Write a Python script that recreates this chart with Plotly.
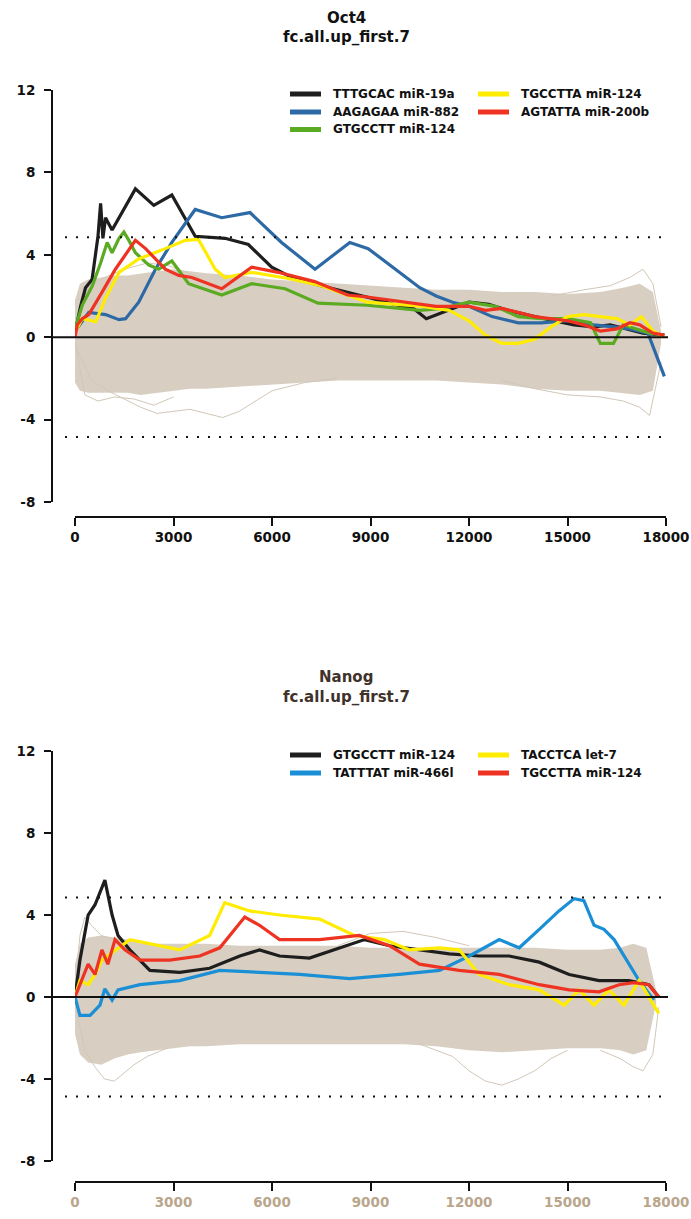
import plotly.graph_objects as go

W, H = 691, 1219

# ---------------- Oct4 panel data ----------------
oct4_labels = ["TTTGCAC miR-19a", "AAGAGAA miR-882", "GTGCCTT miR-124",
               "TGCCTTA miR-124", "AGTATTA miR-200b"]
oct4_colors = ["#1e1e1e", "#2d6aa5", "#5aaa22", "#ffec00", "#ee3322"]

oct4_black_x = [0, 170, 320, 520, 700, 780, 850, 930, 1030, 1130, 1840, 2400, 2950, 3660,
                4570, 5280, 5990, 6600, 7500, 8300, 9000, 9700, 10300, 10700, 11200, 12000,
                12600, 13200, 14000, 14600, 15200, 15800, 16300, 16800, 17300, 17950]
oct4_black_y = [0.2, 1.5, 2.4, 2.8, 4.9, 6.5, 4.8, 5.8, 5.5, 5.2, 7.2, 6.4, 6.9, 4.9,
                4.8, 4.5, 3.4, 2.9, 2.5, 2.2, 1.9, 1.6, 1.4, 0.9, 1.2, 1.7,
                1.6, 1.3, 1.0, 0.8, 0.6, 0.5, 0.6, 0.4, 0.2, 0.1]

oct4_blue_x = [0, 420, 930, 1340, 1540, 1940, 2450, 2950, 3660, 4470, 5330, 6290, 7310,
               8370, 8930, 9500, 10000, 10500, 11000, 11500, 12000, 12700, 13500, 14200,
               15000, 15800, 16400, 16900, 17450, 17950]
oct4_blue_y = [0.3, 1.2, 1.1, 0.85, 0.9, 1.7, 3.3, 4.6, 6.2, 5.8, 6.05, 4.6, 3.3,
               4.6, 4.3, 3.6, 3.0, 2.4, 2.0, 1.7, 1.5, 1.0, 0.7, 0.7,
               0.8, 0.6, 0.5, 0.4, 0.2, -1.9]

oct4_green_x = [0, 220, 530, 780, 980, 1130, 1340, 1490, 1640, 1840, 2250, 2550, 2950,
                3460, 4470, 5380, 6400, 7400, 8900, 9800, 10500, 11200, 12000, 12800,
                13500, 14200, 15000, 15700, 16000, 16400, 16700, 17100, 17500, 17950]
oct4_green_y = [0.4, 1.55, 2.5, 3.6, 4.6, 4.1, 4.8, 5.1, 4.7, 4.1, 3.5, 3.3, 3.7,
                2.6, 2.05, 2.6, 2.35, 1.65, 1.55, 1.4, 1.3, 1.4, 1.7, 1.5,
                1.0, 0.9, 0.9, 0.7, -0.3, -0.3, 0.6, 0.4, 0.2, 0.1]

oct4_yellow_x = [0, 220, 630, 930, 1340, 1940, 2750, 3360, 3760, 4270, 4570, 5380, 6500,
                 7500, 8900, 9800, 10600, 11400, 12000, 12500, 13000, 13500, 14000, 14500,
                 15000, 15500, 16000, 16500, 16900, 17250, 17600, 17950]
oct4_yellow_y = [0.25, 0.9, 0.75, 1.9, 3.15, 3.8, 4.3, 4.7, 4.75, 3.3, 2.9, 3.15, 2.85,
                 2.5, 1.7, 1.6, 1.5, 1.3, 0.8, 0.1, -0.3, -0.3, -0.1, 0.5,
                 1.0, 1.1, 1.0, 0.9, 0.6, 1.0, 0.3, 0.0]

oct4_red_x = [0, 70, 220, 420, 830, 1230, 1840, 2150, 2750, 3160, 3560, 4470, 5380, 6190,
              7300, 8300, 8900, 10000, 11000, 12000, 12500, 13000, 14000, 15000, 15500,
              16000, 16500, 16900, 17200, 17600, 17950]
oct4_red_y = [0.0, 0.6, 0.9, 1.1, 2.2, 3.3, 4.7, 4.3, 3.3, 3.0, 2.9, 2.35, 3.4, 3.15,
              2.7, 2.05, 1.95, 1.7, 1.5, 1.5, 1.3, 1.4, 1.0, 0.8, 0.6,
              0.3, 0.4, 0.7, 0.6, 0.2, 0.1]

# background envelope of the control motifs
oct4_band_x = [0, 150, 400, 800, 1200, 1600, 2000, 2500, 3000, 3500, 4000, 5000, 6000, 7000,
               8000, 9000, 10000, 11000, 12000, 13000, 14000, 15000, 16000, 16700, 17200,
               17600, 17850]
oct4_band_hi = [1.8, 2.6, 2.8, 2.9, 3.0, 3.0, 3.1, 3.2, 3.3, 3.2, 3.1, 3.0, 2.8, 2.7,
                2.6, 2.5, 2.4, 2.3, 2.3, 2.2, 2.2, 2.1, 2.2, 2.4, 2.6, 2.2, 0.3]
oct4_band_lo = [-2.2, -2.6, -2.7, -2.7, -2.7, -2.7, -2.8, -2.7, -2.6, -2.5, -2.5, -2.4,
                -2.3, -2.2, -2.1, -2.1, -2.1, -2.1, -2.2, -2.3, -2.5, -2.6, -2.6, -2.7,
                -2.8, -2.6, -0.3]

oct4_bg_lines = [
    ([0, 500, 1000, 1500, 2000, 2500, 3000, 3500, 4000, 4500, 5000, 5500, 6000, 7000, 8000],
     [-0.4, -2.1, -2.6, -3.0, -3.4, -3.7, -3.6, -3.5, -3.7, -3.9, -3.6, -3.1, -2.6, -2.2, -2.0]),
    ([0, 400, 900, 1500, 2200, 2800, 3300, 3800],
     [0.3, 2.4, 2.9, 3.3, 3.6, 3.5, 3.2, 2.9]),
    ([13000, 14000, 15000, 16000, 16700, 17200, 17500, 17850],
     [-2.1, -2.5, -2.8, -2.9, -3.1, -3.4, -3.8, -1.2]),
    ([14500, 15500, 16300, 16900, 17300, 17600, 17850],
     [2.0, 2.3, 2.5, 2.9, 3.3, 2.6, 0.5]),
    ([0, 300, 700, 1200, 1800, 2400, 3000],
     [-0.2, -2.8, -3.1, -2.9, -3.0, -3.3, -2.9]),
]

# ---------------- Nanog panel data ----------------
nanog_labels = ["GTGCCTT miR-124", "TATTTAT miR-466l", "TACCTCA let-7", "TGCCTTA miR-124"]
nanog_colors = ["#1e1e1e", "#1b8fd6", "#ffec00", "#ee3322"]

nanog_black_x = [0, 150, 400, 610, 910, 1130, 1310, 1670, 2280, 3190, 4100, 5020, 5620,
                 6230, 7140, 8060, 8820, 9580, 10490, 11400, 12310, 13220, 14140, 15050,
                 15960, 16870, 17480, 17780]
nanog_black_y = [0.0, 1.8, 4.0, 4.5, 5.7, 4.0, 3.0, 2.3, 1.3, 1.2, 1.4, 2.0, 2.3,
                 2.0, 1.9, 2.4, 2.8, 2.5, 2.3, 2.1, 2.0, 2.0, 1.7, 1.1,
                 0.8, 0.8, 0.6, 0.0]

nanog_blue_x = [0, 150, 460, 760, 910, 1130, 1310, 1980, 3190, 4410, 5620, 6840, 8360,
                9880, 11100, 12010, 12920, 13530, 14140, 14740, 15200, 15500, 15810,
                16110, 16420, 16720, 17180, 17630]
nanog_blue_y = [0.0, -0.9, -0.9, -0.4, 0.4, -0.15, 0.35, 0.6, 0.8, 1.3, 1.2, 1.1, 0.9,
                1.1, 1.3, 2.0, 2.8, 2.4, 3.3, 4.2, 4.8, 4.7, 3.5,
                3.3, 2.8, 2.0, 0.8, -0.15]

nanog_yellow_x = [0, 150, 400, 610, 820, 1670, 3190, 4100, 4560, 5320, 6230, 7450, 8510,
                  9420, 10180, 11100, 11700, 12310, 13220, 14140, 14900, 15350, 15810,
                  16260, 16720, 17180, 17780]
nanog_yellow_y = [0.0, 0.8, 0.6, 1.1, 1.8, 2.8, 2.3, 3.0, 4.6, 4.2, 4.0, 3.8, 3.0,
                  2.8, 2.3, 2.4, 2.3, 1.1, 0.6, 0.35, -0.4, 0.35, -0.4,
                  0.35, -0.4, 0.8, -0.8]

nanog_red_x = [0, 150, 400, 610, 820, 1000, 1220, 1520, 1980, 2890, 3800, 4410, 5170,
               5620, 6230, 7450, 8660, 9580, 10490, 11700, 12920, 14140, 15050, 15960,
               16570, 17020, 17480, 17780]
nanog_red_y = [0.0, 0.6, 1.6, 1.1, 2.3, 1.6, 2.8, 2.3, 1.8, 1.8, 2.0, 2.4, 3.9,
               3.5, 2.8, 2.8, 3.0, 2.5, 1.6, 1.3, 1.1, 0.6, 0.35, 0.25,
               0.6, 0.7, 0.6, 0.0]

nanog_band_x = [0, 150, 400, 800, 1200, 1600, 2000, 2500, 3000, 3500, 4000, 5000, 6000,
                7000, 8000, 9000, 10000, 11000, 12000, 13000, 14000, 15000, 16000, 16600,
                17000, 17400, 17700]
nanog_band_hi = [1.6, 2.6, 2.9, 3.0, 2.9, 2.8, 2.7, 2.6, 2.6, 2.6, 2.6, 2.5, 2.5, 2.5,
                 2.5, 2.4, 2.4, 2.4, 2.4, 2.4, 2.4, 2.3, 2.3, 2.4, 2.6, 2.4, 0.3]
nanog_band_lo = [-1.8, -2.8, -3.2, -3.3, -3.0, -2.8, -2.7, -2.6, -2.5, -2.4, -2.4, -2.3,
                 -2.3, -2.3, -2.3, -2.3, -2.3, -2.4, -2.6, -2.7, -2.6, -2.5, -2.5, -2.6,
                 -2.8, -2.6, -0.3]

nanog_bg_lines = [
    ([0, 300, 600, 900, 1200, 1500, 1800, 2200, 2800],
     [-0.3, -2.6, -3.4, -4.0, -4.1, -3.7, -3.3, -2.9, -2.5]),
    ([0, 150, 300, 500, 800, 1200],
     [0.4, 3.0, 3.9, 3.5, 3.0, 2.8]),
    ([10500, 11500, 12000, 12500, 13000, 13500, 14000, 14500, 15000],
     [-2.3, -2.9, -3.6, -4.1, -4.3, -4.0, -3.6, -3.0, -2.6]),
    ([16000, 16600, 17000, 17300, 17600, 17780],
     [-2.6, -3.0, -3.4, -3.6, -2.8, -0.5]),
    ([8000, 9000, 10000, 11000, 12000],
     [2.5, 3.1, 3.2, 2.9, 2.5]),
]

# axis ticks and guide levels
x_ticks = [0, 3000, 6000, 9000, 12000, 15000, 18000]
y_ticks = [-8, -4, 0, 4, 8, 12]
threshold = 4.85

BAND = "#d8cfc2"
BG_LINE = "#d2c7b8"


def px_x(p):
    return p / W


def px_y(p):
    return 1 - p / H


fig = go.Figure()


def add_panel(xa, ya, band_x, band_lo, band_hi, bg_lines, series):
    fig.add_trace(go.Scatter(x=band_x, y=band_lo, mode="lines", line=dict(width=0),
                             xaxis=xa, yaxis=ya, showlegend=False, hoverinfo="skip"))
    fig.add_trace(go.Scatter(x=band_x, y=band_hi, mode="lines", line=dict(width=0),
                             fill="tonexty", fillcolor=BAND,
                             xaxis=xa, yaxis=ya, showlegend=False, hoverinfo="skip"))
    for bx, by in bg_lines:
        fig.add_trace(go.Scatter(x=bx, y=by, mode="lines",
                                 line=dict(width=1, color=BG_LINE),
                                 xaxis=xa, yaxis=ya, showlegend=False, hoverinfo="skip"))
    for sx, sy, col, name in series:
        fig.add_trace(go.Scatter(x=sx, y=sy, mode="lines", name=name,
                                 line=dict(width=3.2, color=col),
                                 xaxis=xa, yaxis=ya, showlegend=False))


add_panel("x", "y", oct4_band_x, oct4_band_lo, oct4_band_hi, oct4_bg_lines, [
    (oct4_black_x, oct4_black_y, oct4_colors[0], oct4_labels[0]),
    (oct4_blue_x, oct4_blue_y, oct4_colors[1], oct4_labels[1]),
    (oct4_green_x, oct4_green_y, oct4_colors[2], oct4_labels[2]),
    (oct4_yellow_x, oct4_yellow_y, oct4_colors[3], oct4_labels[3]),
    (oct4_red_x, oct4_red_y, oct4_colors[4], oct4_labels[4]),
])
add_panel("x2", "y2", nanog_band_x, nanog_band_lo, nanog_band_hi, nanog_bg_lines, [
    (nanog_black_x, nanog_black_y, nanog_colors[0], nanog_labels[0]),
    (nanog_blue_x, nanog_blue_y, nanog_colors[1], nanog_labels[1]),
    (nanog_yellow_x, nanog_yellow_y, nanog_colors[2], nanog_labels[2]),
    (nanog_red_x, nanog_red_y, nanog_colors[3], nanog_labels[3]),
])

tick_font = dict(family="DejaVu Sans", size=13.5, color="#111111", weight="bold")


def x_axis(ypix, color):
    return dict(domain=[px_x(75), px_x(666)], range=[0, 18000], anchor="free",
                position=px_y(ypix), showline=True, linewidth=2, linecolor="#111111",
                ticks="outside", ticklen=8, tickwidth=2, tickcolor="#111111",
                tickvals=x_ticks, ticktext=[str(v) for v in x_ticks],
                showgrid=False, zeroline=False, automargin=False,
                tickfont=dict(tick_font, color=color))


def y_axis(top, bottom):
    return dict(domain=[px_y(bottom), px_y(top)], range=[-8, 12], anchor="free",
                position=px_x(52), showline=True, linewidth=2, linecolor="#111111",
                ticks="outside", ticklen=7, tickwidth=2, tickcolor="#111111",
                tickvals=y_ticks, ticktext=[str(v) for v in y_ticks],
                showgrid=False, zeroline=False, ticklabelstandoff=6, automargin=False,
                tickfont=tick_font)


shapes = []
for yref in ("y", "y2"):
    # zero line across the plotting region
    shapes.append(dict(type="line", xref="paper", yref=yref, x0=px_x(52), x1=px_x(668),
                       y0=0, y1=0, line=dict(color="#111111", width=2), layer="above"))
    for lvl in (threshold, -threshold):
        shapes.append(dict(type="line", xref="paper", yref=yref, x0=px_x(65), x1=px_x(666),
                           y0=lvl, y1=lvl,
                           line=dict(color="#111111", width=2, dash="2px,9px")))

annotations = []


def title(lines, ys, color):
    for txt, yp in zip(lines, ys):
        annotations.append(dict(text=txt, x=px_x(346), y=px_y(yp), xref="paper",
                                yref="paper", showarrow=False, xanchor="center",
                                yanchor="middle",
                                font=dict(family="DejaVu Sans", size=15, color=color,
                                          weight="bold")))


title(["Oct4", "fc.all.up_first.7"], [18, 37], "#111111")
title(["Nanog", "fc.all.up_first.7"], [677, 697], "#3f322b")


def legend(entries, rows_y):
    # entries: (label, colour, column, row)
    for label, col, c, r in entries:
        x0 = 290 if c == 0 else 478
        yp = rows_y[r]
        shapes.append(dict(type="line", xref="paper", yref="paper",
                           x0=px_x(x0), x1=px_x(x0 + 31), y0=px_y(yp), y1=px_y(yp),
                           line=dict(color=col, width=5)))
        annotations.append(dict(text=label, x=px_x(x0 + 41), y=px_y(yp), xref="paper",
                                yref="paper", showarrow=False, xanchor="left",
                                yanchor="middle",
                                font=dict(family="DejaVu Sans", size=12, color="#111111",
                                          weight="bold")))


legend([(oct4_labels[0], oct4_colors[0], 0, 0), (oct4_labels[1], oct4_colors[1], 0, 1),
        (oct4_labels[2], oct4_colors[2], 0, 2), (oct4_labels[3], oct4_colors[3], 1, 0),
        (oct4_labels[4], oct4_colors[4], 1, 1)], [94, 112, 129.5])
legend([(nanog_labels[0], nanog_colors[0], 0, 0), (nanog_labels[1], nanog_colors[1], 0, 1),
        (nanog_labels[2], nanog_colors[2], 1, 0), (nanog_labels[3], nanog_colors[3], 1, 1)],
       [755, 773])

fig.update_layout(
    width=W, height=H, margin=dict(l=0, r=0, t=0, b=0, autoexpand=False),
    paper_bgcolor="white", plot_bgcolor="white", showlegend=False,
    xaxis=x_axis(517, "#111111"), yaxis=y_axis(90, 502),
    xaxis2=x_axis(1182, "#b9a68c"), yaxis2=y_axis(751, 1161),
    shapes=shapes, annotations=annotations,
)

fig.write_html("out.html")
